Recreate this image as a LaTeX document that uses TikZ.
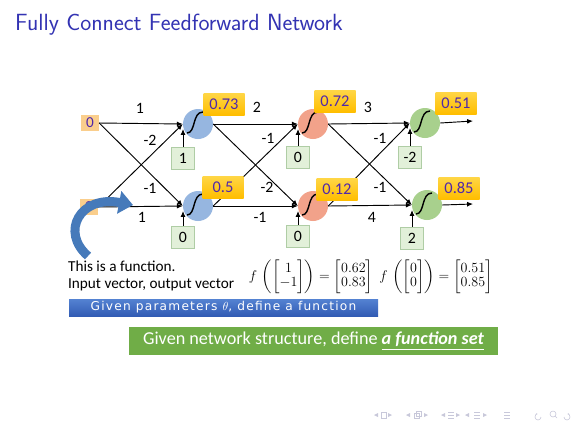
\documentclass[tikz,border=0pt]{standalone}
\usepackage{fontspec}
\usepackage{amsmath}
\usepackage{xcolor}
\setmainfont{Carlito}
\newfontfamily\barfont[LetterSpace=10]{DejaVu Sans}
\usetikzlibrary{arrows.meta, positioning, calc}

\newlength\pxu
\setlength\pxu{0.03cm}

\definecolor{titleblue}{RGB}{51,51,179}
\definecolor{nblue}{RGB}{150,182,224}
\definecolor{nred}{RGB}{242,162,138}
\definecolor{ngreen}{RGB}{168,208,141}
\definecolor{goldtop}{RGB}{255,214,70}
\definecolor{goldbot}{RGB}{255,190,0}
\definecolor{valtext}{RGB}{80,40,170}
\definecolor{inputfill}{RGB}{250,206,140}
\definecolor{biasfill}{RGB}{226,240,217}
\definecolor{biasline}{RGB}{175,205,165}
\definecolor{arrowblue}{RGB}{70,122,186}
\definecolor{bartop}{RGB}{84,130,210}
\definecolor{barbot}{RGB}{50,92,180}
\definecolor{bargreen}{RGB}{112,173,71}
\definecolor{navgray}{RGB}{200,200,218}

\begin{document}
\begin{tikzpicture}[x=0.03cm, y=-0.03cm,
	wt/.style={font=\fontsize{13.5}{15}\selectfont},
	neuron/.style={circle, minimum size=30\pxu, inner sep=0pt},
	inbox/.style={fill=inputfill, minimum width=18\pxu, minimum height=16\pxu, inner sep=0pt, text=valtext, font=\fontsize{13}{15}\selectfont},
	outbox/.style={top color=goldtop, bottom color=goldbot, minimum width=41\pxu, minimum height=22\pxu, inner sep=0pt, text=valtext, font=\fontsize{14}{16}\selectfont},
	biasbox/.style={fill=biasfill, draw=biasline, minimum width=23\pxu, minimum height=22\pxu, inner sep=0pt, font=\fontsize{13.5}{15}\selectfont},
	link/.style={-{Latex[length=5pt, width=4.2pt]}, line width=0.8pt},
	sigmoid/.pic={\draw[line width=1.2pt] (-11,9) .. controls (-2,9) and (-6,-12) .. (5,-12);}
	]
	% Page
	\useasboundingbox (0,0) rectangle (580,435);
	\fill[white] (0,0) rectangle (580,435);
	
	% Title
	\node[anchor=west, text=titleblue, font=\sffamily\fontsize{20}{24}\selectfont] (title) at (11,25) {Fully Connect Feedforward Network};
	
	% Inputs
	\node[inbox] (x1) at (90,123) {0};
	\node[inbox] (x2) at (89,207) {0};
	
	% Neurons
	\node[neuron, fill=nblue] (a1) at (198,124) {};
	\node[neuron, fill=nblue] (a2) at (198,206) {};
	\node[neuron, fill=nred] (b1) at (313,124) {};
	\node[neuron, fill=nred] (b2) at (313,206) {};
	\node[neuron, fill=ngreen] (c1) at (425,123) {};
	\node[neuron, fill=ngreen] (c2) at (427,205) {};
	\pic at (a1) {sigmoid};
	\pic at (a2) {sigmoid};
	\pic at (b1) {sigmoid};
	\pic at (b2) {sigmoid};
	\pic at (c1) {sigmoid};
	\pic at (c2) {sigmoid};
	
	% Biases
	\node[biasbox] (ba1) at (183,158) {1};
	\node[biasbox] (ba2) at (183,237) {0};
	\node[biasbox] (bb1) at (298,157) {0};
	\node[biasbox] (bb2) at (298,236) {0};
	\node[biasbox] (bc1) at (410,157) {-2};
	\node[biasbox] (bc2) at (412,238) {2};
	
	% Layer 1
	\draw[link] (x1.east) -- (a1.west);
	\draw[link] (x1.east) -- (a2.west);
	\draw[link] (x2.east) -- (a1.west);
	\draw[link] (x2.east) -- (a2.west);
	\draw[link] (ba1.north) -- ($(ba1 |- a1.west)+(0,5)$);
	\draw[link] (ba2.north) -- ($(ba2 |- a2.west)+(0,5)$);
	
	% Layer 2
	\draw[link] (a1.east) -- (b1.west);
	\draw[link] (a1.east) -- (b2.west);
	\draw[link] (a2.east) -- (b1.west);
	\draw[link] (a2.east) -- (b2.west);
	\draw[link] (bb1.north) -- ($(bb1 |- b1.west)+(0,5)$);
	\draw[link] (bb2.north) -- ($(bb2 |- b2.west)+(0,5)$);
	
	% Layer 3
	\draw[link] (b1.east) -- (c1.west);
	\draw[link] (b1.east) -- (c2.west);
	\draw[link] (b2.east) -- (c1.west);
	\draw[link] (b2.east) -- (c2.west);
	\draw[link] (bc1.north) -- ($(bc1 |- c1.west)+(0,5)$);
	\draw[link] (bc2.north) -- ($(bc2 |- c2.west)+(0,5)$);
	
	% Outputs
	\coordinate (y1) at (473,121);
	\coordinate (y2) at (473,204);
	\draw[link] (c1.east) -- (y1);
	\draw[link] (c2.east) -- (y2);
	
	% Weights
	\node[wt] (w11) at (140,108) {1};
	\node[wt] (w21) at (150,140) {-2};
	\node[wt] (w12) at (150,188) {-1};
	\node[wt] (w22) at (142,217) {1};
	\node[wt] (v11) at (257,107) {2};
	\node[wt] (v21) at (268,138) {-1};
	\node[wt] (v12) at (267,187) {-2};
	\node[wt] (v22) at (260,217) {-1};
	\node[wt] (u11) at (368,107) {3};
	\node[wt] (u21) at (380,138) {-1};
	\node[wt] (u12) at (380,187) {-1};
	\node[wt] (u22) at (372,217) {4};
	
	% Neuron outputs
	\node[outbox] (oa1) at (224,104) {0.73};
	\node[outbox] (oa2) at (223,187) {0.5};
	\node[outbox] (ob1) at (335,101) {0.72};
	\node[outbox] (ob2) at (337,189) {0.12};
	\node[outbox] (oc1) at (456,103) {0.51};
	\node[outbox] (oc2) at (459,188) {0.85};
	
	% Curved arrow
	\draw[arrowblue, line width=9\pxu, -{Triangle[length=12pt, width=19pt]}] (88,256) .. controls (60,232) and (80,195) .. (133,205);
	
	% Notes
	\node[anchor=west, font=\fontsize{13}{16}\selectfont] (note1) at (64,266) {This is a function.};
	\node[anchor=west, font=\fontsize{13}{16}\selectfont] (note2) at (64,285) {Input vector, output vector};
	
	% Examples
	\node[font=\fontsize{13}{15}\selectfont, inner sep=0pt] (eq1) at (311,277) {\renewcommand{\arraystretch}{0.8}\setlength{\arraycolsep}{1pt}$f\,\left(\begin{bmatrix}1\\-1\end{bmatrix}\right)=\begin{bmatrix}0.62\\0.83\end{bmatrix}$};
	\node[font=\fontsize{13}{15}\selectfont, inner sep=0pt] (eq2) at (436,277) {\renewcommand{\arraystretch}{0.8}\setlength{\arraycolsep}{1pt}$f\,\left(\begin{bmatrix}0\\0\end{bmatrix}\right)=\begin{bmatrix}0.51\\0.85\end{bmatrix}$};
	
	% Bars
	\node[top color=bartop, bottom color=barbot, minimum width=309\pxu, minimum height=17\pxu, inner sep=0pt, text=white, font=\barfont\fontsize{10.4}{12}\selectfont] (param) at (223.5,307.5) {Given parameters $\theta$, define a function};
	\node[fill=bargreen, minimum width=369\pxu, minimum height=28\pxu, inner sep=0pt, text=white, font=\fontsize{15.5}{18}\selectfont] (structure) at (313.5,341) {Given network structure, define \textbf{\textit{\underline{a function set}}}};
	
	% Navigation symbols
	\begin{scope}[navgray, line width=0.5pt]
		\fill (374,415) -- (378,413) -- (378,417) -- cycle;
		\draw (381,412) rectangle (386,418);
		\fill (392,415) -- (388,413) -- (388,417) -- cycle;
		\fill (406,415) -- (410,413) -- (410,417) -- cycle;
		\draw (414,413) rectangle (419,418) (416,411) rectangle (421,416);
		\fill (428,415) -- (424,413) -- (424,417) -- cycle;
		\fill (441,415) -- (445,413) -- (445,417) -- cycle;
		\draw (448,412) -- (454,412) (448,415) -- (454,415) (448,418) -- (454,418);
		\fill (460,415) -- (456,413) -- (456,417) -- cycle;
		\fill (465,415) -- (469,413) -- (469,417) -- cycle;
		\draw (474,412) -- (480,412) (474,415) -- (480,415) (474,418) -- (480,418);
		\fill (487,415) -- (483,413) -- (483,417) -- cycle;
		\draw (504,412) -- (510,412) (504,415) -- (510,415) (504,418) -- (510,418);
		\draw[-{Latex[length=1.7pt]}] (541,417) arc (0:270:3);
		\draw (553,414) circle (3) (555,416) -- (557,418);
		\draw[-{Latex[length=1.7pt]}] (564,417) arc (180:-90:3);
	\end{scope}
\end{tikzpicture}
\end{document}
